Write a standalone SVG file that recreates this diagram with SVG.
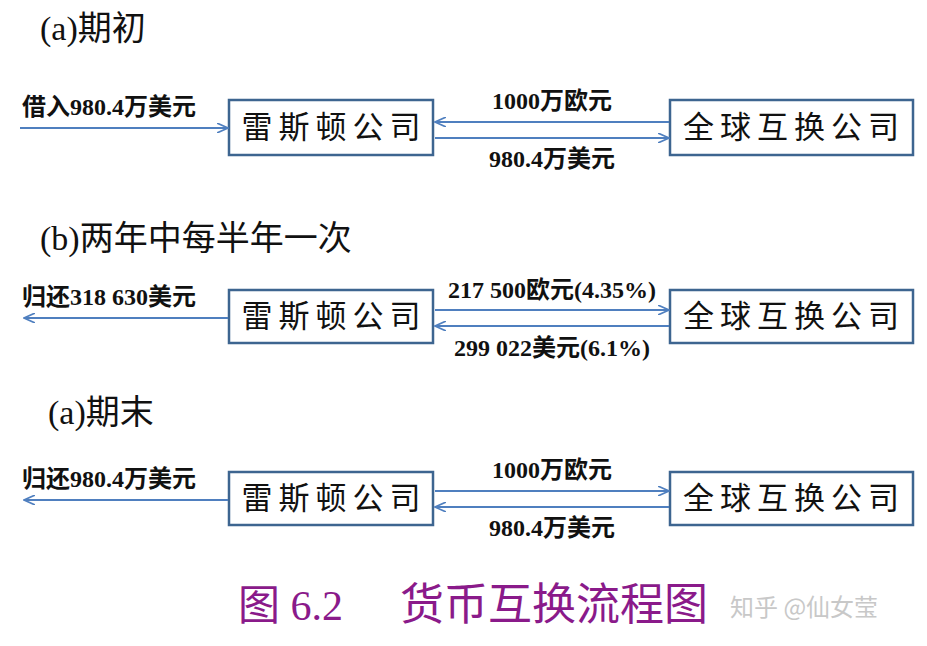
<svg xmlns="http://www.w3.org/2000/svg" width="927" height="646" viewBox="0 0 927 646">
<style>
.box{fill:#fff;stroke:#3d6590;stroke-width:2.5}
.bt{font-family:"Noto Sans CJK SC",serif;font-size:31px;fill:#111;letter-spacing:6px}
.lbl{font-family:"Liberation Serif","Noto Sans CJK SC",serif;font-size:24px;font-weight:bold;fill:#111}
.hd{font-family:"Liberation Serif","Noto Sans CJK SC",serif;font-size:34px;fill:#111}
.ln{stroke:#4f7fbf;stroke-width:2;fill:none}
</style>
<defs>
<marker id="ah" markerWidth="12" markerHeight="10" refX="11" refY="5" orient="auto" markerUnits="userSpaceOnUse">
<path d="M0,0 L11,5 L0,10" fill="none" stroke="#4f7fbf" stroke-width="1.6"/>
</marker>
</defs>
<rect width="927" height="646" fill="#fff"/>
<text class="hd" x="40" y="40">(a)期初</text>
<text class="hd" x="40" y="250">(b)两年中每半年一次</text>
<text class="hd" x="48" y="424">(a)期末</text>
<g id="nodes">
<g id="r1"><rect class="box" x="229" y="100" width="204" height="55"/><text class="bt" x="334" y="138" text-anchor="middle">雷斯顿公司</text></g>
<g id="s1"><rect class="box" x="670" y="100" width="243" height="55"/><text class="bt" x="794" y="138" text-anchor="middle">全球互换公司</text></g>
<g id="r2"><rect class="box" x="229" y="290" width="204" height="53"/><text class="bt" x="334" y="327" text-anchor="middle">雷斯顿公司</text></g>
<g id="s2"><rect class="box" x="670" y="290" width="243" height="53"/><text class="bt" x="794" y="327" text-anchor="middle">全球互换公司</text></g>
<g id="r3"><rect class="box" x="229" y="472" width="204" height="53"/><text class="bt" x="334" y="509" text-anchor="middle">雷斯顿公司</text></g>
<g id="s3"><rect class="box" x="670" y="472" width="243" height="53"/><text class="bt" x="794" y="509" text-anchor="middle">全球互换公司</text></g>
</g>
<g id="connectors">
<line class="ln" x1="20" y1="128" x2="228" y2="128" marker-end="url(#ah)"/>
<line class="ln" x1="669" y1="122" x2="435" y2="122" marker-end="url(#ah)"/>
<line class="ln" x1="435" y1="138" x2="669" y2="138" marker-end="url(#ah)"/>
<line class="ln" x1="228" y1="318" x2="24" y2="318" marker-end="url(#ah)"/>
<line class="ln" x1="435" y1="310" x2="669" y2="310" marker-end="url(#ah)"/>
<line class="ln" x1="669" y1="326" x2="435" y2="326" marker-end="url(#ah)"/>
<line class="ln" x1="228" y1="500" x2="24" y2="500" marker-end="url(#ah)"/>
<line class="ln" x1="435" y1="491" x2="669" y2="491" marker-end="url(#ah)"/>
<line class="ln" x1="669" y1="507" x2="435" y2="507" marker-end="url(#ah)"/>
</g>
<g id="labels">
<text class="lbl" x="22" y="115">借入980.4万美元</text>
<text class="lbl" x="552" y="109" text-anchor="middle">1000万欧元</text>
<text class="lbl" x="552" y="167" text-anchor="middle">980.4万美元</text>
<text class="lbl" x="22" y="305">归还318 630美元</text>
<text class="lbl" x="552" y="298" text-anchor="middle">217 500欧元(4.35%)</text>
<text class="lbl" x="552" y="356" text-anchor="middle">299 022美元(6.1%)</text>
<text class="lbl" x="22" y="487">归还980.4万美元</text>
<text class="lbl" x="552" y="478" text-anchor="middle">1000万欧元</text>
<text class="lbl" x="552" y="536" text-anchor="middle">980.4万美元</text>
</g>
<text x="238" y="620" font-family="Liberation Serif,'Noto Sans CJK SC',serif" font-size="42" fill="#8a1a8a">图 6.2</text>
<text x="400" y="620" font-family="'Noto Sans CJK SC',serif" font-size="44" fill="#8a1a8a">货币互换流程图</text>
<text x="730" y="616" font-family="'Noto Sans CJK SC',sans-serif" font-size="24" fill="#c8c8c8">知乎 @仙女莹</text>
</svg>
